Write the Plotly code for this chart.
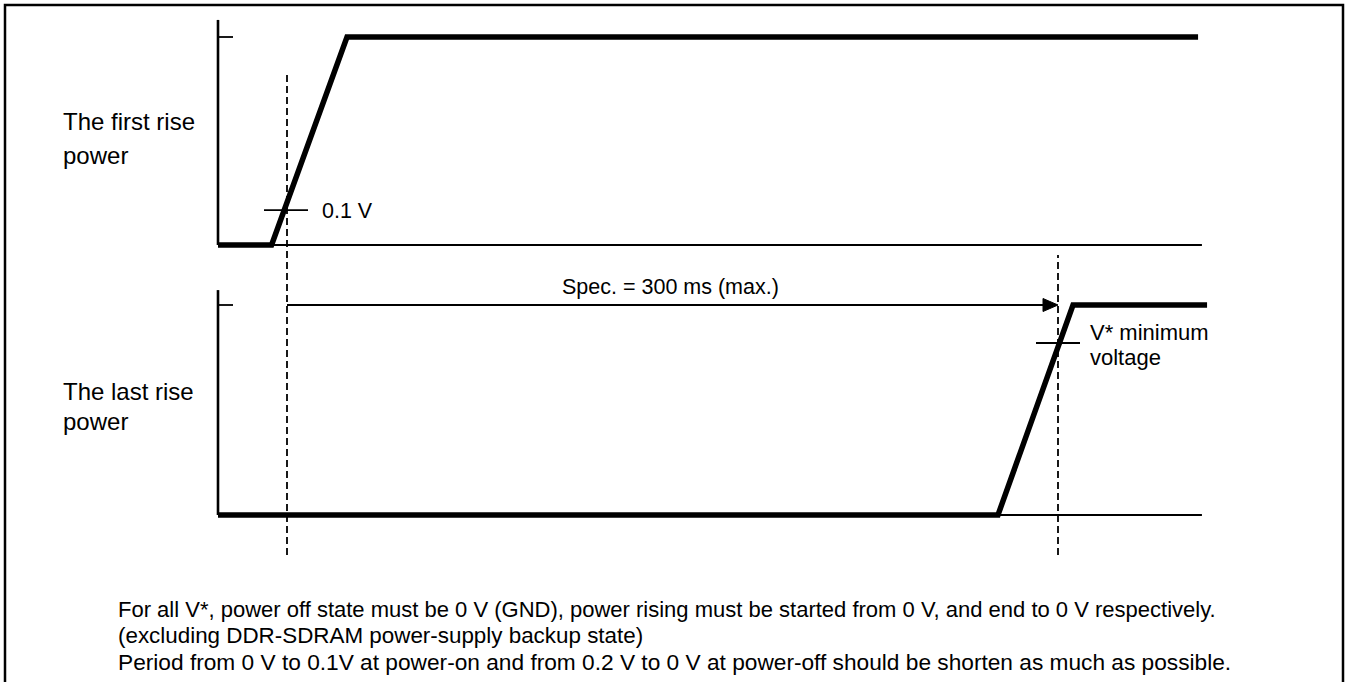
import plotly.graph_objects as go

# ---------------- data (time in ms, level as fraction of full rail) ----------------
first_t = [-26.85, -6.0, 23.35, 354.5]
first_v = [0, 0, 1, 1]
last_t = [-26.85, 276.65, 305.84, 358.0]
last_v = [0, 0, 1, 1]
baseline_t = [-26.85, 356.0]
axis_t = -26.85
tick_end_t = -21.0
first_axis_top = 1.082
last_axis_top = 1.071
thr_first_level = 0.168
thr_first_t = [-8.95, 8.17]
thr_last_level = 0.819
thr_last_t = [291.44, 308.56]
spec_start = 0.0
spec_end = 300.0
spec_label = "Spec. = 300 ms (max.)"
label_first = ["The first rise", "power"]
label_last = ["The last rise", "power"]
thr_first_label = "0.1 V"
thr_last_label = ["V* minimum", "voltage"]
notes = [
    "For all V*, power off state must be 0 V (GND), power rising must be started from 0 V, and end to 0 V respectively.",
    "(excluding DDR-SDRAM power-supply backup state)",
    "Period from 0 V to 0.1V at power-on and from 0.2 V to 0 V at power-off should be shorten as much as possible.",
]

# ---------------- layout constants (pixels) ----------------
W, H = 1347, 682
x0_px, px_per_ms = 287.0, 771.0 / 300.0
top_base_px, top_unit_px = 245.0, 208.0
bot_base_px, bot_unit_px = 515.0, 210.0

xr = [(0 - x0_px) / px_per_ms, (W - x0_px) / px_per_ms]
yr1 = [(top_base_px - H) / top_unit_px, top_base_px / top_unit_px]
yr2 = [(bot_base_px - H) / bot_unit_px, bot_base_px / bot_unit_px]

def y1_from_px(p):
    return (top_base_px - p) / top_unit_px

def y2_from_px(p):
    return (bot_base_px - p) / bot_unit_px

def ms_from_px(p):
    return (p - x0_px) / px_per_ms

FONT = "Liberation Sans, Arial, Helvetica, sans-serif"
BLACK = "#000000"

fig = go.Figure()

def line(xs, ys, width, yaxis="y", dash="solid"):
    fig.add_trace(go.Scatter(x=xs, y=ys, mode="lines", yaxis=yaxis,
                             line=dict(color=BLACK, width=width, dash=dash),
                             hoverinfo="skip", showlegend=False))

# dashed guide lines (bottom-panel units)
line([spec_start, spec_start], [y2_from_px(555), y2_from_px(73)], 1.8, "y2", "7px,4px")
line([spec_end, spec_end], [y2_from_px(555), y2_from_px(255)], 1.8, "y2", "7px,4px")

# top panel
line([axis_t, axis_t], [0, first_axis_top], 2.6)
line([axis_t, tick_end_t], [1, 1], 1.8)
line(baseline_t, [0, 0], 2.0)
line(first_t, first_v, 5.5)
line(thr_first_t, [thr_first_level] * 2, 1.8)

# bottom panel
line([axis_t, axis_t], [0, last_axis_top], 2.6, "y2")
line([axis_t, tick_end_t], [1, 1], 1.8, "y2")
line(baseline_t, [0, 0], 2.0, "y2")
line(last_t, last_v, 5.5, "y2")
line(thr_last_t, [thr_last_level] * 2, 1.8, "y2")

# spec arrow
head_len_ms = 15 / px_per_ms
head_half = 6.5 / bot_unit_px
line([spec_start, spec_end - head_len_ms], [1, 1], 2.0, "y2")
fig.add_trace(go.Scatter(
    x=[spec_end - head_len_ms, spec_end, spec_end - head_len_ms, spec_end - head_len_ms],
    y=[1 + head_half, 1, 1 - head_half, 1 + head_half],
    mode="lines", fill="toself", fillcolor=BLACK, line=dict(color=BLACK, width=1),
    yaxis="y2", hoverinfo="skip", showlegend=False))

ann = []
def text(s, x, y, yref, size=21, xanchor="left"):
    ann.append(dict(text=s, x=x, y=y, xref="x", yref=yref, showarrow=False,
                    xanchor=xanchor, yanchor="middle",
                    font=dict(family=FONT, size=size, color=BLACK)))

text(label_first[0], ms_from_px(61), y1_from_px(121), "y", 24)
text(label_first[1], ms_from_px(61), y1_from_px(155), "y", 24)
text(label_last[0], ms_from_px(61), y2_from_px(391), "y2", 24)
text(label_last[1], ms_from_px(61), y2_from_px(421), "y2", 24)
text(thr_first_label, ms_from_px(320), y1_from_px(211), "y", 21.5)
text(thr_last_label[0], ms_from_px(1088), y2_from_px(332), "y2", 22)
text(thr_last_label[1], ms_from_px(1088), y2_from_px(357), "y2", 22)
text(spec_label, (spec_start + spec_end) / 2 + (ms_from_px(670) - 150), y2_from_px(287), "y2", 21.5, "center")
note_sizes = [22.0, 22.4, 22.7]
for i, s in enumerate(notes):
    text(s, ms_from_px(116), y2_from_px(609 + 26.5 * i), "y2", note_sizes[i])

fig.update_layout(
    width=W, height=H, margin=dict(l=0, r=0, t=0, b=0),
    paper_bgcolor="white", plot_bgcolor="white",
    xaxis=dict(range=xr, visible=False, fixedrange=True),
    yaxis=dict(range=yr1, visible=False, domain=[0, 1], fixedrange=True),
    yaxis2=dict(range=yr2, visible=False, domain=[0, 1], overlaying="y", fixedrange=True),
    annotations=ann,
    hovermode=False,
    shapes=[dict(type="rect", xref="paper", yref="paper",
                 x0=5 / W, x1=1343 / W, y0=-0.05, y1=1 - 5 / H,
                 line=dict(color=BLACK, width=2.5))],
)

fig.write_html("out.html", config={"displayModeBar": False, "staticPlot": True},
               post_script="document.body.style.margin='0px';document.body.style.overflow='hidden';")
